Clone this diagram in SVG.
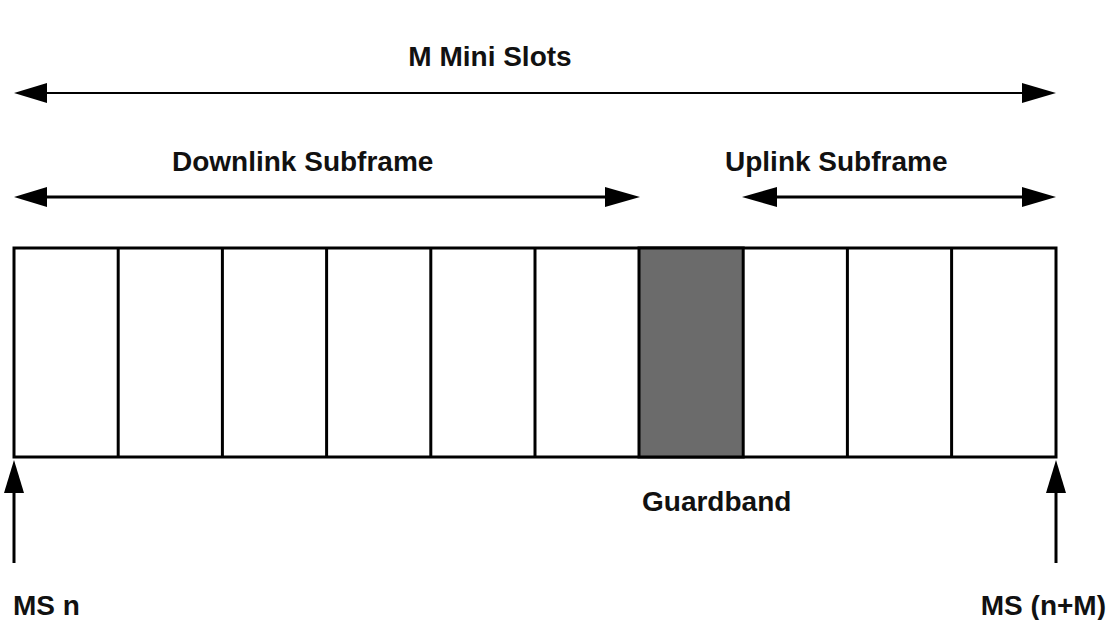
<svg xmlns="http://www.w3.org/2000/svg" width="1116" height="620" viewBox="0 0 1116 620">
<style>
.t{font-family:"Liberation Sans",Arial,sans-serif;font-weight:bold;font-size:28px;fill:#111}
.ln{stroke:#000;fill:none}
.cell{fill:#fff;stroke:#000;stroke-width:3}
.head{fill:#000}
</style>
<rect width="1116" height="620" fill="#fff"/>
<g id="frame">
<rect class="cell" x="14" y="248" width="1042" height="209"/>
<rect id="guardband-cell" x="639" y="248" width="104.2" height="209" fill="#6b6b6b" stroke="#000" stroke-width="3"/>
<g class="ln" stroke-width="3">
<line x1="118.2" y1="248" x2="118.2" y2="457"/>
<line x1="222.4" y1="248" x2="222.4" y2="457"/>
<line x1="326.6" y1="248" x2="326.6" y2="457"/>
<line x1="430.8" y1="248" x2="430.8" y2="457"/>
<line x1="535" y1="248" x2="535" y2="457"/>
<line x1="847.4" y1="248" x2="847.4" y2="457"/>
<line x1="951.6" y1="248" x2="951.6" y2="457"/>
</g>
</g>
<g id="connectors">
<line class="ln" x1="40" y1="93" x2="1030" y2="93" stroke-width="2"/>
<polygon class="head" points="14,93 47,83 47,103"/>
<polygon class="head" points="1056,93 1022,83 1022,103"/>
<line class="ln" x1="40" y1="197" x2="615" y2="197" stroke-width="3"/>
<polygon class="head" points="14,197 47,187 47,207"/>
<polygon class="head" points="640,197 605,187 605,207"/>
<line class="ln" x1="765" y1="197" x2="1030" y2="197" stroke-width="3"/>
<polygon class="head" points="742,197 777,187 777,207"/>
<polygon class="head" points="1056,197 1022,187 1022,207"/>
<line class="ln" x1="14" y1="485" x2="14" y2="563" stroke-width="3"/>
<polygon class="head" points="14,460 4,493 24,493"/>
<line class="ln" x1="1056" y1="485" x2="1056" y2="563" stroke-width="3"/>
<polygon class="head" points="1056,460 1046,493 1066,493"/>
</g>
<g id="labels">
<text class="t" x="490" y="66" text-anchor="middle">M Mini Slots</text>
<text class="t" x="172" y="171">Downlink Subframe</text>
<text class="t" x="725" y="171">Uplink Subframe</text>
<text class="t" x="642" y="511">Guardband</text>
<text class="t" x="13" y="615">MS n</text>
<text class="t" x="1106" y="615" text-anchor="end">MS (n+M)</text>
</g>
</svg>
